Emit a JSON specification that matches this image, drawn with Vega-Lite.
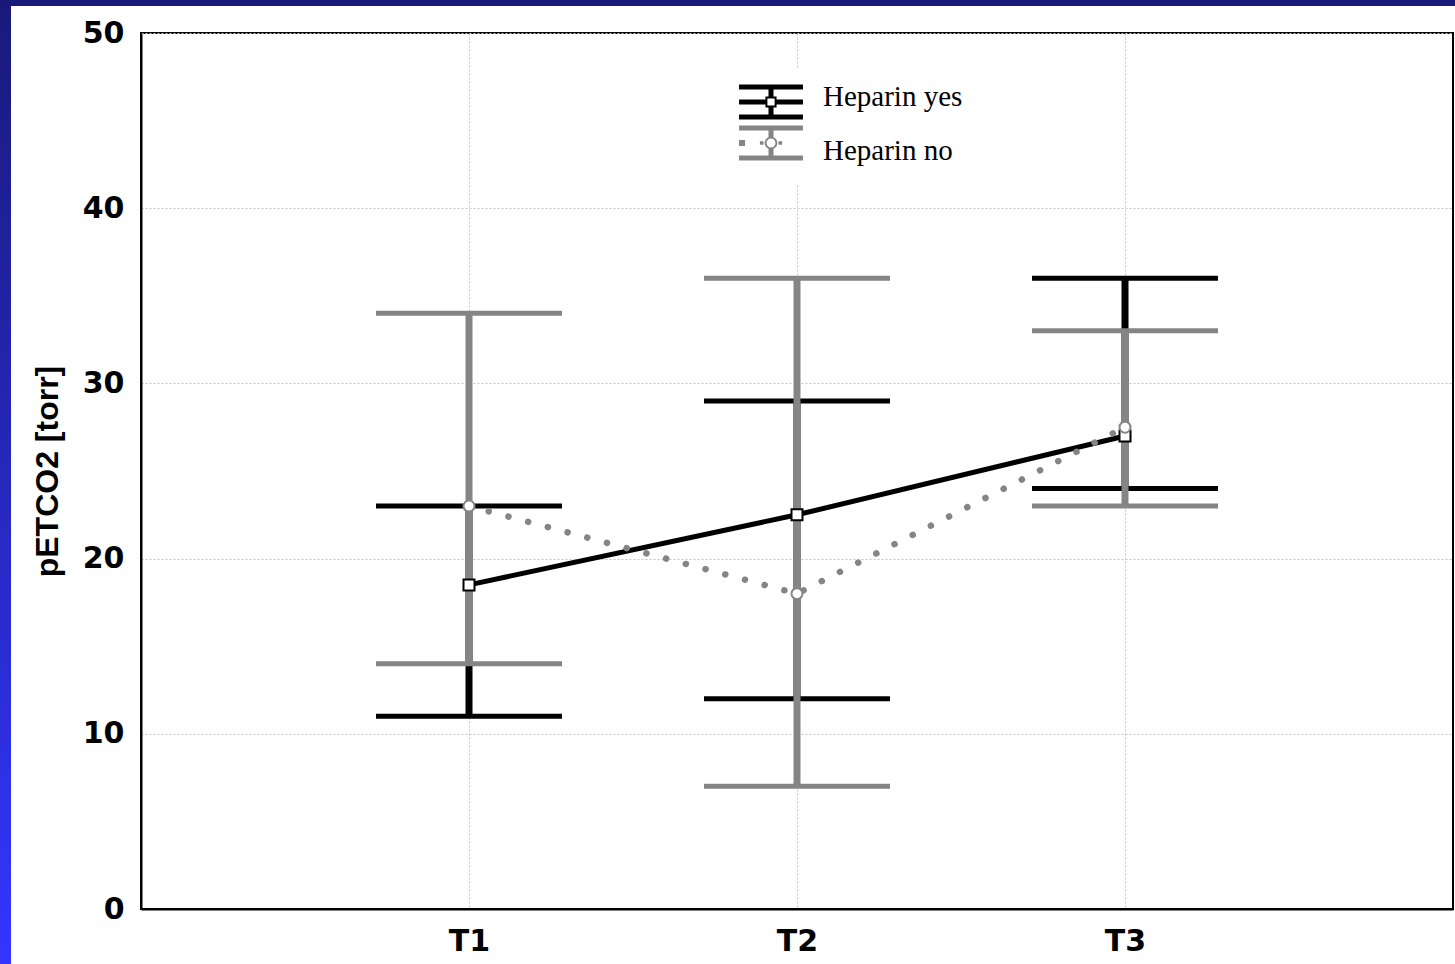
{
  "$schema": "https://vega.github.io/schema/vega-lite/v6.json",
  "background": "white",
  "padding": 0,
  "datasets": {
    "yes": [
      {"time": "T1", "group": "Heparin yes", "mean": 18.5, "low": 11, "high": 23},
      {"time": "T2", "group": "Heparin yes", "mean": 22.5, "low": 12, "high": 29},
      {"time": "T3", "group": "Heparin yes", "mean": 27, "low": 24, "high": 36}
    ],
    "no": [
      {"time": "T1", "group": "Heparin no", "mean": 23, "low": 14, "high": 34},
      {"time": "T2", "group": "Heparin no", "mean": 18, "low": 7, "high": 36},
      {"time": "T3", "group": "Heparin no", "mean": 27.5, "low": 23, "high": 33}
    ],
    "strip": [{"part": "frame"}]
  },
  "hconcat": [
    {
      "width": 11,
      "height": 964,
      "data": {"name": "strip"},
      "view": {"stroke": null},
      "mark": {
        "type": "rect",
        "color": {
          "gradient": "linear", "x1": 0, "y1": 0, "x2": 0, "y2": 1,
          "stops": [
            {"offset": 0, "color": "#19197a"},
            {"offset": 1, "color": "#3535ff"}
          ]
        }
      }
    },
    {
      "vconcat": [
        {
          "width": 1444,
          "height": 6,
          "data": {"name": "strip"},
          "view": {"stroke": null},
          "mark": {"type": "rect", "color": "#19197a"}
        },
        {
          "hconcat": [
            {
              "width": 1,
              "height": 1,
              "data": {"name": "strip"},
              "view": {"stroke": null},
              "mark": {"type": "rect", "opacity": 0}
            },
            {
              "width": 1312,
              "height": 876,
              "view": {"stroke": "#000000", "strokeWidth": 2, "fill": "white"},
              "encoding": {
                "x": {
                  "field": "time", "type": "ordinal", "title": null,
                  "scale": {"type": "point", "padding": 1, "domain": ["T1", "T2", "T3"]},
                  "axis": {"grid": true, "labelAngle": 0, "ticks": false}
                }
              },
              "layer": [
                {
                  "data": {"name": "yes"},
                  "mark": {"type": "rule", "color": "#000000", "strokeWidth": 7},
                  "encoding": {
                    "y": {"field": "low", "type": "quantitative", "title": "pETCO2 [torr]",
                          "scale": {"domain": [0, 50], "nice": false},
                          "axis": {"values": [0, 10, 20, 30, 40, 50], "grid": true, "ticks": false}},
                    "y2": {"field": "high"}
                  }
                },
                {
                  "data": {"name": "yes"},
                  "mark": {"type": "tick", "color": "#000000", "size": 186, "thickness": 5, "opacity": 1},
                  "encoding": {"y": {"field": "low", "type": "quantitative", "title": "pETCO2 [torr]"}}
                },
                {
                  "data": {"name": "yes"},
                  "mark": {"type": "tick", "color": "#000000", "size": 186, "thickness": 5, "opacity": 1},
                  "encoding": {"y": {"field": "high", "type": "quantitative", "title": "pETCO2 [torr]"}}
                },
                {
                  "data": {"name": "no"},
                  "mark": {"type": "rule", "color": "#858585", "strokeWidth": 7},
                  "encoding": {
                    "y": {"field": "low", "type": "quantitative", "title": "pETCO2 [torr]"},
                    "y2": {"field": "high"}
                  }
                },
                {
                  "data": {"name": "no"},
                  "mark": {"type": "tick", "color": "#858585", "size": 186, "thickness": 5, "opacity": 1},
                  "encoding": {"y": {"field": "low", "type": "quantitative", "title": "pETCO2 [torr]"}}
                },
                {
                  "data": {"name": "no"},
                  "mark": {"type": "tick", "color": "#858585", "size": 186, "thickness": 5, "opacity": 1},
                  "encoding": {"y": {"field": "high", "type": "quantitative", "title": "pETCO2 [torr]"}}
                },
                {
                  "data": {"name": "yes"},
                  "mark": {"type": "line", "strokeWidth": 5},
                  "encoding": {
                    "y": {"field": "mean", "type": "quantitative", "title": "pETCO2 [torr]"},
                    "color": {
                      "field": "group", "type": "nominal",
                      "scale": {"domain": ["Heparin yes", "Heparin no"], "range": ["#000000", "#858585"]},
                      "legend": {
                        "orient": "none",
                        "legendX": 738,
                        "legendY": 69,
                        "title": null,
                        "fillColor": "white",
                        "strokeColor": null,
                        "padding": 18,
                        "symbolSize": 900,
                        "symbolType": "square",
                        "rowPadding": 5,
                        "labelFont": "Liberation Serif",
                        "labelFontSize": 29,
                        "labelColor": "#000000",
                        "labelOffset": 37,
                        "labelLimit": 400,
                        "labelBaseline": "alphabetic",
                        "encode": {
                          "symbols": {
                            "update": {
                              "shape": {"signal": "datum.value === 'Heparin yes' ? 'M-2.13,-1.167H2.13V-0.833H-2.13Z M-2.13,0.833H2.13V1.167H-2.13Z M-2.13,-0.167H-0.37V0.167H-2.13Z M0.37,-0.167H2.13V0.167H0.37Z M-0.167,-0.833H0.167V-0.37H-0.167Z M-0.167,0.37H0.167V0.833H-0.167Z M-0.37,-0.37H0.37V0.37H-0.37Z M-0.24,-0.24V0.24H0.24V-0.24Z' : 'M-2.13,-1.167H2.13V-0.833H-2.13Z M-2.13,0.833H2.13V1.167H-2.13Z M-0.167,-0.833H0.167V-0.4H-0.167Z M-0.167,0.4H0.167V0.833H-0.167Z M-2.13,-0.2H-1.73V0.2H-2.13Z M-0.74,-0.12H-0.5V0.12H-0.74Z M0.5,-0.12H0.74V0.12H0.5Z M0.43,0L0.372,0.215L0.215,0.372L0,0.43L-0.215,0.372L-0.372,0.215L-0.43,0L-0.372,-0.215L-0.215,-0.372L0,-0.43L0.215,-0.372L0.372,-0.215Z M0.3,0L0.26,-0.15L0.15,-0.26L0,-0.3L-0.15,-0.26L-0.26,-0.15L-0.3,0L-0.26,0.15L-0.15,0.26L0,0.3L0.15,0.26L0.26,0.15Z'"},
                              "fill": {"signal": "datum.value === 'Heparin yes' ? '#000000' : '#858585'"},
                              "fillOpacity": {"value": 1},
                              "opacity": {"value": 1},
                              "stroke": {"value": "transparent"},
                              "strokeWidth": {"value": 0},
                              "size": {"value": 900}
                            }
                          },
                          "labels": {
                            "update": {
                              "dy": {"signal": "datum.value === 'Heparin yes' ? 3.5 : 16.5"}
                            }
                          }
                        }
                      }
                    }
                  }
                },
                {
                  "data": {"name": "yes"},
                  "mark": {"type": "point", "shape": "square", "size": 121, "filled": true, "fill": "white", "stroke": "#000000", "strokeWidth": 2, "opacity": 1},
                  "encoding": {"y": {"field": "mean", "type": "quantitative", "title": "pETCO2 [torr]"}}
                },
                {
                  "data": {"name": "no"},
                  "mark": {"type": "line", "strokeWidth": 6.5, "strokeDash": [0.1, 20.3], "strokeCap": "round"},
                  "encoding": {
                    "y": {"field": "mean", "type": "quantitative", "title": "pETCO2 [torr]"},
                    "color": {"field": "group", "type": "nominal"}
                  }
                },
                {
                  "data": {"name": "no"},
                  "mark": {"type": "point", "shape": "circle", "size": 121, "filled": true, "fill": "white", "stroke": "#858585", "strokeWidth": 2, "opacity": 1},
                  "encoding": {"y": {"field": "mean", "type": "quantitative", "title": "pETCO2 [torr]"}}
                }
              ]
            }
          ],
          "spacing": 18
        }
      ],
      "spacing": 11
    }
  ],
  "spacing": 0,
  "config": {
    "axis": {
      "domainColor": "#000000",
      "domainWidth": 2,
      "ticks": false,
      "gridColor": "#c4c4c4",
      "gridDash": [2, 2],
      "gridWidth": 1,
      "labelColor": "#000000",
      "labelFont": "DejaVu Sans",
      "labelFontWeight": "bold",
      "labelFontSize": 30,
      "titleColor": "#000000",
      "titleFont": "Liberation Sans",
      "titleFontWeight": "bold",
      "titleFontSize": 32
    },
    "axisX": {"labelPadding": 17},
    "axisY": {"labelPadding": 17, "titlePadding": 18}
  }
}
